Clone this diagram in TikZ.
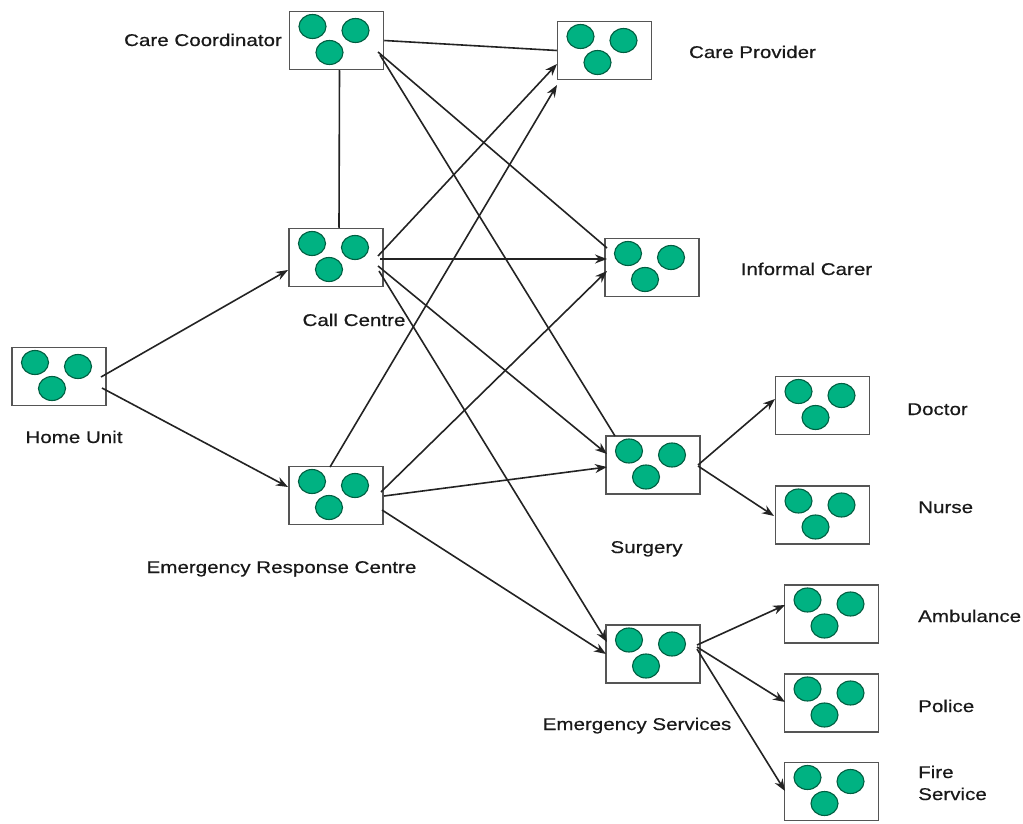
\documentclass[tikz,border=0pt]{standalone}
\usepackage{fontspec}
\setmainfont[FakeStretch=1.21,FakeBold=0.5]{Liberation Sans}
\usetikzlibrary{arrows.meta,calc}
\definecolor{boxc}{RGB}{85,85,85}
\definecolor{linec}{RGB}{35,35,35}
\definecolor{dotf}{RGB}{0,178,130}
\definecolor{dotd}{RGB}{0,95,65}
\definecolor{txtc}{RGB}{25,25,25}
\begin{document}
\begin{tikzpicture}[x=1pt,y=-1pt,
  unitbox/.style={draw=boxc, line width=1.5pt, fill=white, minimum width=94pt, minimum height=58pt, inner sep=0pt},
  lbl/.style={font=\fontsize{17}{22}\selectfont, text=txtc, inner sep=0pt, anchor=base},
  lblw/.style={lbl, anchor=base west, align=left},
  conn/.style={draw=linec, line width=1.6pt},
  arr/.style={conn, -{Stealth[length=12pt,width=9pt]}}]
\useasboundingbox (0,0) rectangle (1023,824);
% boxes
\node[unitbox] (coord) at (336.5,40.5) {};
\node[unitbox] (prov)  at (604.5,50.5) {};
\node[unitbox] (call)  at (336,257.5) {};
\node[unitbox] (erc)   at (336,495.5) {};
\node[unitbox] (home)  at (59,376.5) {};
\node[unitbox] (inf)   at (652,267.5) {};
\node[unitbox] (surg)  at (653,465) {};
\node[unitbox] (doc)   at (822.5,405.5) {};
\node[unitbox] (nurse) at (822.5,515) {};
\node[unitbox] (es)    at (653,654) {};
\node[unitbox] (amb)   at (831.5,614) {};
\node[unitbox] (pol)   at (831.5,703) {};
\node[unitbox] (fire)  at (831.5,791.5) {};
% circles
\foreach \n in {coord,prov,call,erc,home,inf,surg,doc,nurse,es,amb,pol,fire}{
  \foreach \dx/\dy in {-24/-14,19/-10,-7/12}{
    \draw[draw=dotd, fill=dotf, line width=1.1pt] ($(\n)+(\dx,\dy)$) ellipse [x radius=13.5pt, y radius=12pt];
  }
}
% labels
\node[lbl] (lcoord) at (203,46) {Care Coordinator};
\node[lbl] (lprov) at (752.5,58) {Care Provider};
\node[lbl] (linf) at (806.5,275) {Informal Carer};
\node[lbl] (lcall) at (354,326) {Call Centre};
\node[lbl] (lhome) at (74,443) {Home Unit};
\node[lbl] (lerc) at (281.5,573) {Emergency Response Centre};
\node[lbl] (lsurg) at (646.5,553) {Surgery};
\node[lbl] (les) at (637,730) {Emergency Services};
\node[lblw] (ldoc) at (907,415) {Doctor};
\node[lblw] (lnurse) at (918,513) {Nurse};
\node[lblw] (lamb) at (918,622) {Ambulance};
\node[lblw] (lpol) at (918,712) {Police};
\node[lblw] (lfire) at (918,800) {Fire\\Service};
% connectors
\draw[conn] (coord.east) -- (prov.west);
\draw[conn] ($(coord.south)+(3,0)$) -- ($(call.north)+(3,0)$);
\draw[conn] ($(coord)+(41.5,11.5)$) -- ($(inf)+(-45,-19.5)$);
\draw[conn] ($(coord)+(43.5,14.5)$) -- ($(surg)+(-38,-29)$);
\draw[arr] ($(call)+(42,-1.5)$) -- ($(prov)+(-47.5,13.5)$);
\draw[arr] ($(call)+(44,1.5)$) -- ($(inf)+(-45,-8.5)$);
\draw[arr] ($(call)+(42,8.5)$) -- ($(surg)+(-46,-11)$);
\draw[arr] ($(call)+(43,13.5)$) -- ($(es)+(-46,-12)$);
\draw[arr] ($(erc)+(-6,-28.5)$) -- ($(prov)+(-47.5,34.5)$);
\draw[arr] ($(erc)+(45,-3.5)$) -- ($(inf)+(-45,3.5)$);
\draw[arr] ($(erc)+(48,0.5)$) -- ($(surg)+(-46,2)$);
\draw[arr] ($(erc)+(46,14.5)$) -- ($(es)+(-47,0)$);
\draw[arr] ($(home)+(42,0.5)$) -- ($(call)+(-48,12.5)$);
\draw[arr] ($(home)+(43,11.5)$) -- ($(erc)+(-48,-8.5)$);
\draw[arr] ($(surg)+(45,0)$) -- ($(doc)+(-47.5,-6.5)$);
\draw[arr] ($(surg)+(45,1)$) -- ($(nurse)+(-48.5,1)$);
\draw[arr] ($(es)+(44,-9)$) -- ($(amb)+(-46.5,-9)$);
\draw[arr] ($(es)+(44,-7)$) -- ($(pol)+(-46.5,-1)$);
\draw[arr] ($(es)+(44,-5)$) -- ($(fire)+(-46.5,-0.5)$);
\end{tikzpicture}
\end{document}
